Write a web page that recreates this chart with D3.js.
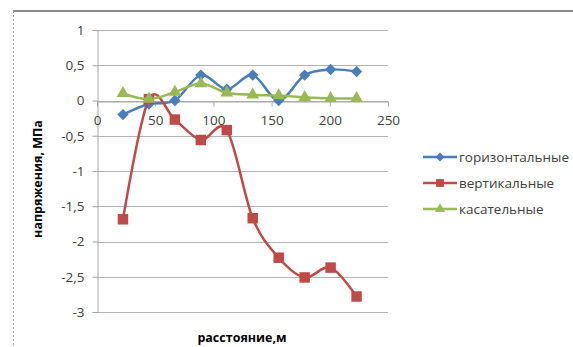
<!DOCTYPE html>
<html><head><meta charset="utf-8">
<script src="https://cdn.jsdelivr.net/npm/d3@7"></script>
<style>body{margin:0;background:#fff}svg{display:block}</style>
</head><body>
<svg id="c" width="573" height="347"></svg>
<script>
const distances = [22.3, 44.6, 66.9, 89.2, 111.5, 133.8, 156.1, 178.4, 200.7, 223];
const horizontal = [-0.2, -0.05, 0.0, 0.36, 0.16, 0.36, 0.0, 0.36, 0.44, 0.41];
const vertical = [-1.685, 0.02, -0.27, -0.56, -0.42, -1.67, -2.23, -2.51, -2.37, -2.78];
const tangential = [0.1, 0.02, 0.12, 0.24, 0.11, 0.08, 0.07, 0.045, 0.03, 0.03];
const xTicks = [0, 50, 100, 150, 200, 250];
const yTicks = [1, 0.5, 0, -0.5, -1, -1.5, -2, -2.5, -3];
const seriesNames = ["горизонтальные", "вертикальные", "касательные"];
const seriesColors = ["#4a7ebb", "#be4b48", "#98b954"];
const markerTypes = ["diamond", "square", "triangle"];

const svg = d3.select("#c");
const font = "'Open Sans', sans-serif";
const x = d3.scaleLinear().domain([0, 250]).range([97, 388]);
const y = d3.scaleLinear().domain([-3, 1]).range([312, 30]);

// chart border
svg.append("line").attr("x1", 13).attr("x2", 573).attr("y1", 11).attr("y2", 11)
  .attr("stroke", "#8c8c8c").attr("stroke-width", 2);
svg.append("line").attr("x1", 13.5).attr("x2", 13.5).attr("y1", 11).attr("y2", 347)
  .attr("stroke", "#9a9a9a").attr("stroke-width", 1).attr("stroke-dasharray", "2,2");

// gridlines
svg.append("g").selectAll("line").data(yTicks).join("line")
  .attr("x1", x(0)).attr("x2", x(250))
  .attr("y1", d => Math.round(y(d)) + 0.5).attr("y2", d => Math.round(y(d)) + 0.5)
  .attr("stroke", "#b3b3b3").attr("stroke-width", 1);

// y axis
const yAxis = d3.axisLeft(y).tickValues(yTicks).tickSize(5).tickPadding(8)
  .tickFormat(d => String(d).replace(".", ","));
const gy = svg.append("g").attr("transform", `translate(${x(0) + 0.5},0)`).call(yAxis);
gy.select(".domain").attr("stroke", "#a6a6a6");
gy.selectAll(".tick line").attr("stroke", "#a6a6a6");
gy.selectAll(".tick text").attr("fill", "#404040").style("font-family", font).style("font-size", "13.5px");

// x axis at y=0
const xAxis = d3.axisBottom(x).tickValues(xTicks).tickSize(5).tickPadding(9).tickSizeOuter(0);
const gx = svg.append("g").attr("transform", `translate(0,${Math.round(y(0)) + 0.5})`).call(xAxis);
gx.select(".domain").attr("stroke", "#a6a6a6");
gx.selectAll(".tick line").attr("stroke", "#a6a6a6");
gx.selectAll(".tick text").attr("fill", "#404040").style("font-family", font).style("font-size", "13.5px");

function markerPath(type) {
  if (type === "diamond") return d3.symbol(d3.symbolSquare, 64)();
  if (type === "square") return d3.symbol(d3.symbolSquare, 110)();
  return d3.symbol(d3.symbolTriangle, 70)();
}
function markerRot(type) { return type === "diamond" ? 45 : 0; }

const allSeries = [horizontal, vertical, tangential];
const line = d3.line().x((d, i) => x(distances[i])).y(d => y(d)).curve(d3.curveCardinal.tension(0));

allSeries.forEach((vals, s) => {
  const g = svg.append("g");
  g.append("path").attr("d", line(vals)).attr("fill", "none")
    .attr("stroke", seriesColors[s]).attr("stroke-width", 2.5).attr("stroke-linejoin", "round");
  g.selectAll("path.m").data(vals).join("path").attr("class", "m")
    .attr("d", markerPath(markerTypes[s]))
    .attr("transform", (d, i) => `translate(${x(distances[i])},${y(d)}) rotate(${markerRot(markerTypes[s])})`)
    .attr("fill", seriesColors[s]);
});

// legend
const legY = [157, 183, 209];
seriesNames.forEach((name, s) => {
  const g = svg.append("g").attr("transform", `translate(0,${legY[s]})`);
  g.append("line").attr("x1", 423).attr("x2", 457).attr("y1", 0).attr("y2", 0)
    .attr("stroke", seriesColors[s]).attr("stroke-width", 2.5);
  const mt = markerTypes[s];
  const sc = mt === "square" ? 0.75 : 0.8;
  g.append("path").attr("d", markerPath(mt))
    .attr("transform", `translate(440,0) rotate(${markerRot(mt)}) scale(${sc})`)
    .attr("fill", seriesColors[s]);
  g.append("text").attr("x", 459).attr("y", 0).attr("dy", "0.35em")
    .attr("fill", "#404040").style("font-family", font).style("font-size", "13.5px").text(name);
});

// axis titles
svg.append("text").attr("transform", "translate(38,179) rotate(-90)").attr("text-anchor", "middle")
  .attr("dy", "0.35em").attr("fill", "#000").style("font-family", font).style("font-weight", "bold")
  .style("font-size", "12.5px").text("напряжения, МПа");
svg.append("text").attr("x", 242).attr("y", 338).attr("text-anchor", "middle").attr("dy", "0.35em")
  .attr("fill", "#000").style("font-family", font).style("font-weight", "bold")
  .style("font-size", "12.5px").text("расстояние,м");
</script>
</body></html>
